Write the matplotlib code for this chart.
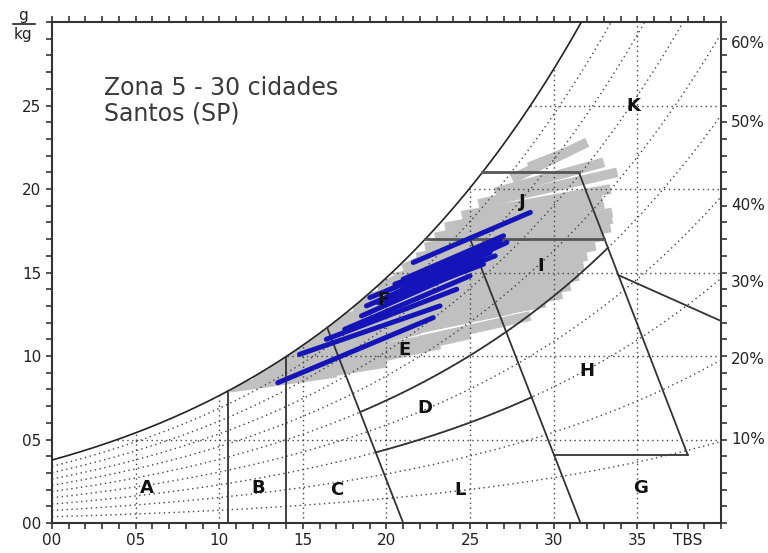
import numpy as np
import matplotlib.pyplot as plt
from matplotlib.lines import Line2D
from matplotlib.patches import Polygon

# chart data
x_ticks = [0, 5, 10, 15, 20, 25, 30, 35]
x_labels = ['00', '05', '10', '15', '20', '25', '30', '35']
y_ticks = [0, 5, 10, 15, 20, 25]
y_labels = ['00', '05', '10', '15', '20', '25']
rh_levels = [0.1, 0.2, 0.3, 0.4, 0.5, 0.6, 0.7, 0.8, 0.9]
rh_labels = ['10%', '20%', '30%', '40%', '50%', '60%']
rh_label_y = [5.0, 9.8, 14.4, 19.0, 24.0, 28.7]

# straight zone boundaries (TBS, g/kg); None = on the saturation curve
seg_x0 = [10.5, 14.0, 16.45, 25.0, 31.5, 33.85, 30.0]
seg_y0 = [0.0, 0.0, None, 17.0, 21.0, 14.85, 4.1]
seg_x1 = [10.5, 14.0, 21.0, 31.6, 38.0, 40.0, 38.0]
seg_y1 = [None, None, 0.0, 0.0, 4.1, 12.1, 4.1]
shelf_y = [17.0, 21.0]
shelf_xend = [33.0, 31.5]
rh50_range = [18.45, 33.25]
rh30_range = [19.4, 28.7]

# zone letters
zone_names = ['A', 'B', 'C', 'L', 'G', 'D', 'H', 'E', 'F', 'I', 'J', 'K']
zone_x = [5.7, 12.3, 17.0, 24.4, 35.2, 22.3, 32.0, 21.1, 19.8, 29.2, 28.1, 34.75]
zone_y = [2.1, 2.1, 2.0, 2.0, 2.1, 6.9, 9.1, 10.35, 13.35, 15.4, 19.2, 25.0]

# other cities of the zone (gray) - start/end of each line
gray_x0 = [10.6, 12.0, 14.0, 15.5, 17.0, 16.0, 14.5, 15.0, 16.0, 16.8, 17.5, 18.3,
           19.0, 19.8, 20.5, 21.2, 21.8, 22.3, 22.9, 23.5, 24.5, 25.5, 26.5, 27.5,
           28.5, 13.0, 12.0, 13.5, 15.0, 16.5, 18.0, 19.5, 21.0]
gray_y0 = [8.1, 8.3, 8.7, 9.2, 9.8, 10.4, 10.0, 10.6, 11.2, 11.8, 12.3, 12.9,
           13.5, 14.1, 14.7, 15.3, 15.9, 16.5, 17.1, 17.7, 18.4, 19.1, 19.8, 20.6,
           21.3, 9.2, 8.7, 9.6, 10.5, 11.6, 12.8, 14.0, 15.2]
gray_x1 = [17.0, 20.0, 23.2, 25.0, 28.6, 27.5, 26.0, 29.5, 30.5, 31.0, 31.5, 31.8,
           32.0, 32.5, 33.0, 33.4, 33.5, 33.5, 33.0, 32.9, 33.4, 33.8, 33.0, 32.0,
           31.0, 22.0, 19.0, 19.0, 21.0, 22.0, 23.0, 24.0, 25.0]
gray_y1 = [9.0, 9.6, 10.7, 11.3, 12.4, 12.8, 12.6, 13.2, 13.7, 14.2, 14.8, 15.4,
           16.0, 16.6, 17.2, 17.7, 18.2, 18.6, 19.1, 19.5, 20.0, 21.0, 21.6, 22.8,
           22.3, 11.6, 10.4, 12.0, 13.5, 14.5, 15.6, 16.4, 17.2]

# Santos (blue)
blue_x0 = [13.5, 14.8, 16.4, 17.5, 18.5, 19.0, 20.0, 20.5, 21.0, 21.6, 19.8, 20.8,
           18.8, 19.5, 20.2, 21.0]
blue_y0 = [8.4, 10.1, 11.0, 11.6, 12.4, 13.5, 13.9, 14.3, 14.6, 15.6, 13.3, 13.6,
           13.0, 13.2, 13.6, 14.0]
blue_x1 = [22.8, 23.2, 24.2, 25.0, 25.5, 26.5, 26.8, 26.0, 27.0, 28.6, 24.0, 25.8,
           26.2, 26.5, 27.2, 25.5]
blue_y1 = [12.3, 13.0, 14.0, 14.8, 15.5, 16.5, 16.9, 16.3, 17.2, 18.6, 14.9, 15.5,
           16.2, 16.0, 16.8, 15.8]


def w_sat(t):
    p = 0.61078 * np.exp(17.27 * t / (t + 237.3))
    return 622.0 * p / (101.325 - p)


tt = np.linspace(0, 42, 2000)
wt = w_sat(tt)


def t_sat(w):
    return np.interp(w, wt, tt)


fig = plt.figure(figsize=(7.68, 5.53), dpi=100)
ax = fig.add_axes([0.0677, 0.0542, 0.8711, 0.906])
ax.set_xlim(0, 40)
ax.set_ylim(0, 30)

# area under the saturation curve, used to clip the data lines
ts = tt[(tt <= 40) & (wt <= 30.2)]
under = np.column_stack([np.r_[ts, 40, 40, 0], np.r_[w_sat(ts), 30, 0, 0]])
clip = Polygon(under, closed=True, transform=ax.transData, fill=False, lw=0)
ax.add_patch(clip)

dot = dict(ls=(0, (1, 2.5)), color='#444444', lw=1.0, zorder=3)

# relative humidity curves
t = np.linspace(0, 40, 400)
for rh in rh_levels:
    ax.plot(t, rh * w_sat(t), **dot)

# dotted grid, only under the saturation curve
for xv in range(5, 40, 5):
    ax.plot([xv, xv], [0, min(w_sat(xv), 30)], **dot)
for yv in range(5, 30, 5):
    ax.plot([t_sat(yv), 40], [yv, yv], **dot)

# data lines
for i in range(len(gray_x0)):
    g, = ax.plot([gray_x0[i], gray_x1[i]], [gray_y0[i], gray_y1[i]], color='#c0c0c0',
                 lw=7, solid_capstyle='butt', zorder=2)
    g.set_clip_path(clip)
for i in range(len(blue_x0)):
    ax.plot([blue_x0[i], blue_x1[i]], [blue_y0[i], blue_y1[i]], color='#1414b8',
            lw=3.6, solid_capstyle='round', zorder=6)

# saturation curve
ax.plot(ts, w_sat(ts), color='#222222', lw=1.2, zorder=5)

# zone boundaries
line = dict(color='#333333', lw=1.3, zorder=5)
for i in range(len(seg_x0)):
    y0 = seg_y0[i] if seg_y0[i] is not None else w_sat(seg_x0[i])
    y1 = seg_y1[i] if seg_y1[i] is not None else w_sat(seg_x1[i])
    ax.plot([seg_x0[i], seg_x1[i]], [y0, y1], **line)
for yv, xe in zip(shelf_y, shelf_xend):
    ax.plot([t_sat(yv), xe], [yv, yv], color='#555555', lw=2.0, zorder=5)
t50 = np.linspace(*rh50_range, 100)
ax.plot(t50, 0.5 * w_sat(t50), **line)
t30 = np.linspace(*rh30_range, 100)
ax.plot(t30, 0.3 * w_sat(t30), **line)

for n, x, y in zip(zone_names, zone_x, zone_y):
    ax.text(x, y, n, ha='center', va='center', fontsize=13, fontweight='bold',
            color='#111111', zorder=7)

ax.text(3.1, 23.8, 'Zona 5 - 30 cidades\nSantos (SP)', fontsize=17,
        color='#3a3a3a', family='DejaVu Sans', va='bottom', linespacing=1.1)

# axes look
for s in ax.spines.values():
    s.set_color('#333333')
    s.set_linewidth(1.5)
ax.set_xticks(x_ticks)
ax.set_xticklabels(x_labels)
ax.set_yticks(y_ticks)
ax.set_yticklabels(y_labels)
ax.set_xticks(np.arange(0, 41, 1), minor=True)
ax.set_yticks(np.arange(0, 31, 1), minor=True)
ax.tick_params(which='both', direction='out', length=4, width=1.2, color='#333333',
               top=True, right=True, labelsize=11, labelcolor='#222222')
ax.text(38, -0.6, 'TBS', ha='center', va='top', fontsize=11, color='#222222')

for lab, y in zip(rh_labels, rh_label_y):
    ax.text(40.6, y, lab, ha='left', va='center', fontsize=11, color='#222222')

fig.text(0.030, 0.972, 'g', ha='center', va='center', fontsize=11, color='#222222')
fig.text(0.030, 0.937, 'kg', ha='center', va='center', fontsize=11, color='#222222')
fig.add_artist(Line2D([0.017, 0.046], [0.957, 0.957], color='#222222', lw=1.2))

fig.savefig('out.png', dpi=100)
